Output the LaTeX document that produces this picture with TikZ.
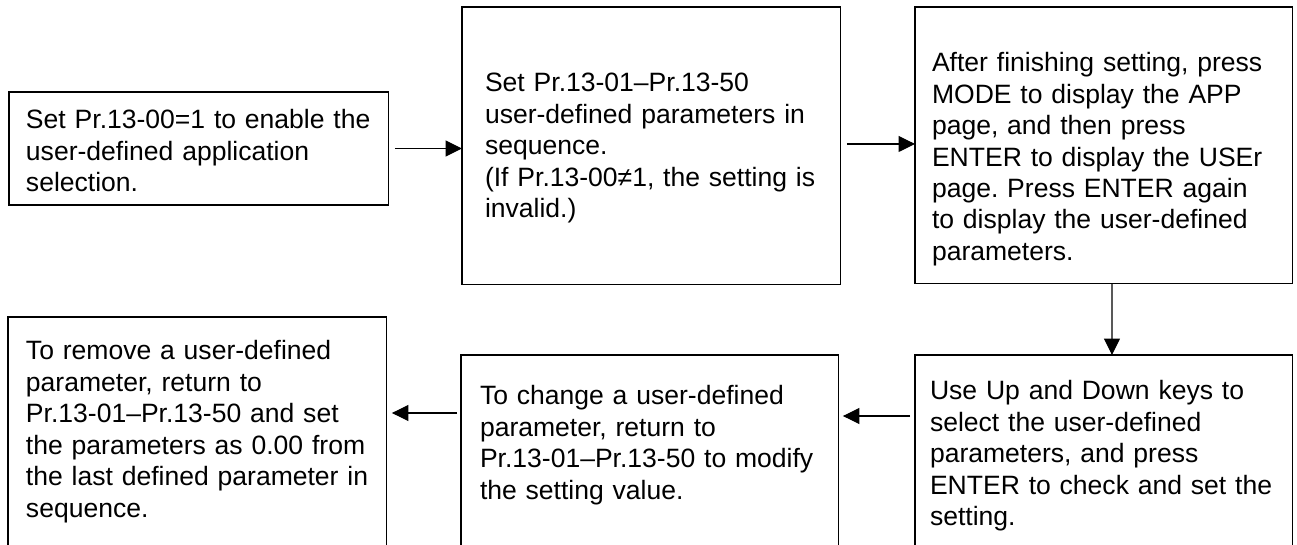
\documentclass[tikz,border=0pt]{standalone}
\usepackage{fontspec}
\setmainfont{Liberation Sans}
\usetikzlibrary{calc,arrows.meta}

\begin{document}
\begin{tikzpicture}[>={Triangle[length=0.33cm,width=0.32cm]},x=0.02cm,y=-0.02cm,
    stepbox/.style={draw,line width=0.6pt,anchor=north west,align=left,inner ysep=0pt,outer sep=0pt,
      font=\fontsize{15.1pt}{17.9pt}\selectfont\frenchspacing}]
  \useasboundingbox (0,0) rectangle (1297,544);
  \clip (0,0) rectangle (1297,544);
  % Top row of steps
  \node[stepbox,inner xsep=0.34cm,text width=6.92cm,text height=0.74cm,text depth=1.52cm] (enable) at (9,92)
    {Set Pr.13-00=1 to enable the\\user-defined application\\selection.};
  \node[stepbox,inner xsep=0.46cm,text width=6.66cm,text height=1.694cm,text depth=3.866cm] (define) at (462,7)
    {Set Pr.13-01–Pr.13-50\\user-defined parameters in\\sequence.\\(If Pr.13-00≠1, the setting is\\invalid.)};
  \node[stepbox,inner xsep=0.34cm,text width=6.88cm,text height=1.294cm,text depth=4.246cm] (display) at (915,7)
    {After finishing setting, press\\MODE to display the APP\\page, and then press\\ENTER to display the USEr\\page. Press ENTER again\\to display the user-defined\\parameters.};
  % Bottom row (boxes run past the lower edge)
  \node[stepbox,inner xsep=0.3cm,text width=6.96cm,text height=0.9cm,text depth=3.6cm] (select) at (915,355)
    {Use Up and Down keys to\\select the user-defined\\parameters, and press\\ENTER to check and set the\\setting.};
  \node[stepbox,inner xsep=0.38cm,text width=6.8cm,text height=1.0cm,text depth=3.5cm] (change) at (461,355)
    {To change a user-defined\\parameter, return to\\Pr.13-01–Pr.13-50 to modify\\the setting value.};
  \node[stepbox,inner xsep=0.36cm,text width=6.86cm,text height=0.86cm,text depth=4.4cm] (remove) at (8,317)
    {To remove a user-defined\\parameter, return to\\Pr.13-01–Pr.13-50 and set\\the parameters as 0.00 from\\the last defined parameter in\\sequence.};
  % Flow between steps
  \draw[->,line width=0.6pt] ($(enable.east)+(6,0)$) -- (enable.east -| define.west);
  \draw[->,line width=0.6pt] ($(define.east)+(6,-2)$) -- ($(define.east -| display.west)+(0,-2)$);
  \draw[->,line width=0.6pt] ($(display.south)+(8,0)$) -- ($(select.north)+(8,0)$);
  \draw[->,line width=0.6pt] ($(select.north west)+(-5,61)$) -- ($(change.north east)+(4,61)$);
  \draw[->,line width=0.6pt] ($(change.north west)+(-4,58)$) -- ($(remove.north east)+(5,96)$);
\end{tikzpicture}
\end{document}
